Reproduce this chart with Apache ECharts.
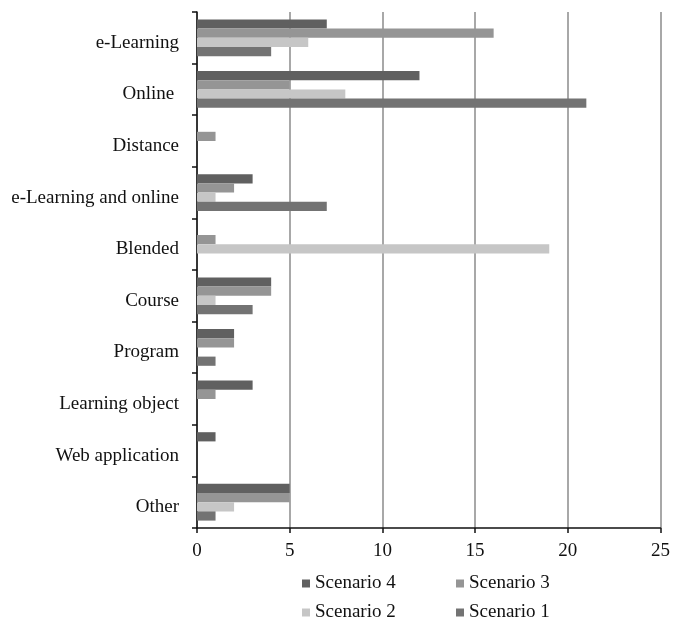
<!DOCTYPE html>
<html>
<head>
<meta charset="utf-8">
<script src="https://cdn.jsdelivr.net/npm/echarts@6/dist/echarts.min.js"></script>
<style>
html,body{margin:0;padding:0;background:#fff;}
#chart{width:673px;height:621px;}
</style>
</head>
<body>
<div id="chart"></div>
<script>
const categories = ["e-Learning","Online ","Distance","e-Learning and online","Blended","Course","Program","Learning object","Web application","Other"];
const scenario4 = [7,12,0,3,0,4,2,3,1,5];
const scenario3 = [16,5,1,2,1,4,2,1,0,5];
const scenario2 = [6,8,0,1,19,1,0,0,0,2];
const scenario1 = [4,21,0,7,0,3,1,0,0,1];
const xTicks = [0,5,10,15,20,25];

const seriesNames = ["Scenario 4","Scenario 3","Scenario 2","Scenario 1"];
const seriesData = [scenario4, scenario3, scenario2, scenario1];
const colors = ["#606060","#959595","#c6c6c6","#737373"];
const font = "'Liberation Serif', 'Times New Roman', serif";

const chart = echarts.init(document.getElementById('chart'), null, {renderer:'canvas'});
const legendPos = [
  {left:302, top:574},
  {left:456, top:574},
  {left:302, top:603},
  {left:456, top:603}
];
chart.setOption({
  animation:false,
  backgroundColor:'#fff',
  grid:{left:197, right:10, top:12, bottom:93, containLabel:false},
  legend: seriesNames.map((n,i)=>({
    data:[n], left:legendPos[i].left, top:legendPos[i].top,
    itemWidth:8, itemHeight:8, itemGap:6, icon:'rect', padding:0,
    textStyle:{fontFamily:font, fontSize:19, color:'#111', padding:[2,0,0,0]}
  })),
  xAxis:{
    type:'value', min:0, max:25, interval:5,
    axisLine:{show:true, lineStyle:{color:'#111', width:1.5}},
    axisTick:{show:true, length:5, lineStyle:{color:'#111', width:1.5}},
    axisLabel:{fontFamily:font, fontSize:19, color:'#111', margin:14,
      formatter:(v)=> xTicks.includes(v) ? String(v) : ''},
    splitLine:{show:true, lineStyle:{color:'#a8a8a8', width:2}}
  },
  yAxis:{
    type:'category', data:categories, inverse:true,
    axisLine:{show:true, lineStyle:{color:'#111', width:1.5}},
    axisTick:{show:true, length:5, lineStyle:{color:'#111', width:1.5}},
    axisLabel:{fontFamily:font, fontSize:19, color:'#111', margin:18, verticalAlign:'top', lineHeight:10},
    splitLine:{show:false}
  },
  series: seriesNames.map((n,i)=>({
    name:n, type:'bar', data:seriesData[i],
    barWidth:9.2, barGap:'0%',
    itemStyle:{color:colors[i]}
  }))
});
</script>
</body>
</html>
